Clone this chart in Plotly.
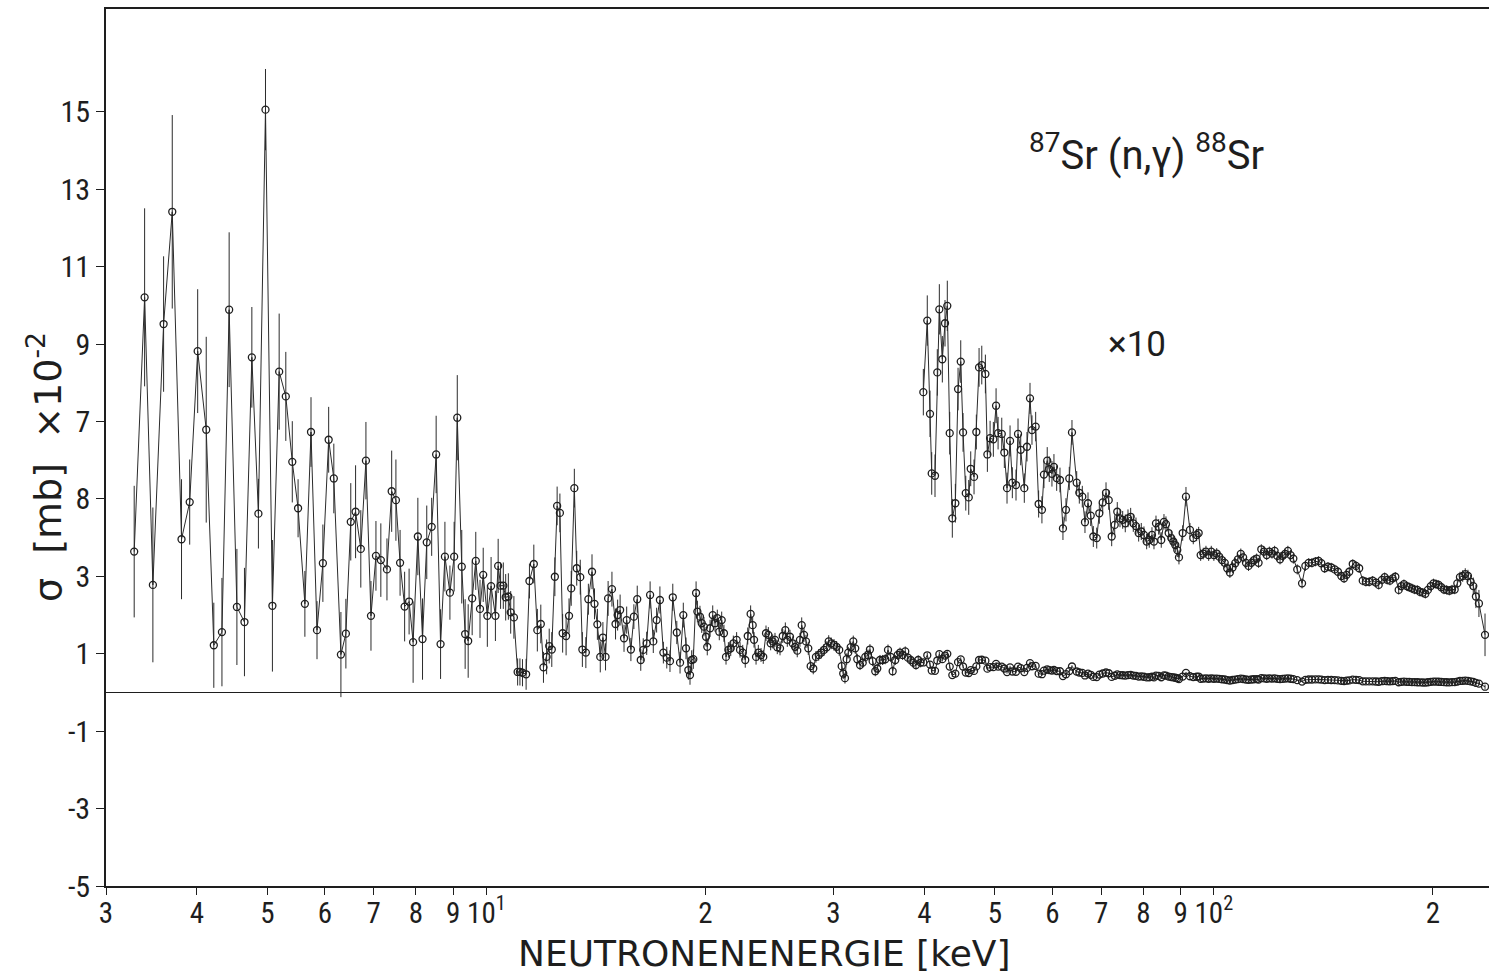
import plotly.graph_objects as go

# ---------------- data ----------------
# main series, energies below 40 keV  [keV]
energy_low = [
    3.28, 3.39, 3.48, 3.60, 3.70, 3.81, 3.91, 4.01, 4.12, 4.22, 4.33, 4.43, 4.54, 4.65, 4.76, 4.86,
    4.97, 5.08, 5.19, 5.30, 5.41, 5.51, 5.63, 5.74, 5.85, 5.96, 6.07, 6.17, 6.31, 6.41, 6.51, 6.61,
    6.72, 6.83, 6.94, 7.05, 7.16, 7.30, 7.41, 7.51, 7.61, 7.72, 7.83, 7.93, 8.05, 8.17, 8.28, 8.41,
    8.53, 8.65, 8.77, 8.91, 9.03, 9.12, 9.25, 9.35, 9.44, 9.56, 9.67, 9.80, 9.90, 10.03, 10.15, 10.29,
    10.38, 10.46, 10.55, 10.63, 10.72, 10.80, 10.91, 11.04, 11.12, 11.21, 11.34, 11.46, 11.62, 11.75,
    11.88, 11.98, 12.10, 12.20, 12.30, 12.42, 12.51, 12.62, 12.73, 12.87, 12.99, 13.08, 13.21, 13.31,
    13.46, 13.55, 13.70, 13.81, 13.97, 14.08, 14.21, 14.34, 14.46, 14.58, 14.70, 14.88, 15.05, 15.15,
    15.27, 15.46, 15.59,
    15.80, 15.95, 16.12, 16.30, 16.43, 16.61, 16.79, 16.96, 17.14, 17.32, 17.51, 17.70, 17.88, 18.04,
    18.27, 18.46, 18.65, 18.81, 18.95, 19.05, 19.15, 19.25, 19.42, 19.50, 19.66, 19.77, 19.91, 20.04,
    20.12, 20.30, 20.47, 20.62, 20.77, 20.90, 21.06, 21.21, 21.35, 21.51, 21.67, 21.85, 22.08, 22.32,
    22.51, 22.69, 22.87, 23.08, 23.23, 23.33, 23.48, 23.65, 23.85, 24.02, 24.23, 24.41, 24.59, 24.75,
    24.93, 25.11, 25.33, 25.55, 25.76, 25.92, 26.14, 26.37, 26.56, 26.75, 26.98, 27.13, 27.33, 27.50,
    27.70, 27.91, 28.14, 28.38, 28.63, 28.86, 29.11, 29.36, 29.55, 29.79, 30.05, 30.30, 30.55, 30.79,
    30.94, 31.11, 31.28, 31.44, 31.68, 31.94, 32.14, 32.35, 32.63, 32.91, 33.18, 33.46, 33.67, 33.96,
    34.24, 34.46, 34.76, 35.05, 35.34, 35.65, 35.95, 36.18, 36.48, 36.76, 37.03, 37.34, 37.65, 37.97,
    38.30, 38.62, 38.95, 39.23, 39.53,
]
# sigma [mb] x 10^-2
sigma_low = [
    3.64, 10.21, 2.78, 9.52, 12.42, 3.96, 4.92, 8.82, 6.79, 1.22, 1.56, 9.89, 2.21, 1.82, 8.66, 4.62,
    15.06, 2.24, 8.29, 7.65, 5.96, 4.76, 2.29, 6.73, 1.61, 3.34, 6.53, 5.53, 0.98, 1.52, 4.41, 4.67,
    3.71, 5.99, 1.98, 3.53, 3.42, 3.18, 5.20, 4.97, 3.35, 2.22, 2.35, 1.30, 4.03, 1.38, 3.88, 4.28,
    6.15, 1.25, 3.51, 2.58, 3.51, 7.10, 3.25, 1.51, 1.33, 2.43, 3.40, 2.16, 3.04, 1.98, 2.75, 1.98,
    3.27, 2.76, 2.76, 2.46, 2.48, 2.07, 1.94, 0.53, 0.53, 0.51, 0.47, 2.88, 3.32, 1.61,
    1.77, 0.65, 0.92, 1.20, 1.11, 2.99, 4.82, 4.64, 1.53, 1.46, 1.98, 2.69, 5.28, 3.21,
    2.98, 1.11, 1.03, 2.41, 3.12, 2.29, 1.76, 0.92, 1.42, 0.92, 2.43, 2.67, 1.77, 2.00,
    2.13, 1.40, 1.87,
    1.11, 1.96, 2.41, 0.84, 1.10, 1.27, 2.52, 1.32, 1.87, 2.39, 1.03, 0.90, 0.81, 2.46,
    1.55, 0.77, 2.00, 1.14, 0.58, 0.45, 0.84, 0.86, 2.57, 2.09, 1.96, 1.79, 1.70, 1.44,
    1.18, 1.66, 2.00, 1.79, 1.92, 1.57, 1.87, 1.53, 0.92, 1.10, 1.14, 1.27, 1.36, 1.10,
    1.03, 0.84, 1.46, 2.03, 1.74, 1.36, 0.92, 1.03, 0.97, 0.92, 1.53, 1.49, 1.27, 1.32,
    1.36, 1.17, 1.14, 1.46, 1.61, 1.36, 1.44, 1.27, 1.18, 1.08, 1.36, 1.74, 1.49, 1.32,
    1.14, 0.68, 0.62, 0.92, 0.97, 1.03, 1.10, 1.17, 1.32, 1.27, 1.23, 1.18, 1.10, 0.68,
    0.49, 0.37, 0.86, 1.03, 1.17, 1.32, 1.14, 0.86, 0.71, 0.77, 0.92, 0.97, 1.11, 0.81,
    0.55, 0.62, 0.84, 0.84, 0.86, 1.10, 0.92, 0.55, 0.84, 0.97, 1.03, 0.97, 1.06, 0.90,
    0.84, 0.77, 0.71, 0.84, 0.77,
]
err_low = [
    1.70, 2.30, 2.00, 1.75, 2.50, 1.55, 1.10, 1.60, 2.40, 1.10, 1.40, 2.00, 1.50, 1.40, 1.30, 0.90,
    1.05, 1.70, 1.50, 1.15, 1.05, 0.75, 0.85, 0.90, 0.75, 1.00, 0.85, 0.90, 1.10, 0.90, 1.00, 1.20,
    1.00, 1.00, 0.90, 0.90, 0.95, 0.80, 1.05, 1.05, 0.85, 0.90, 0.85, 1.05, 1.00, 1.05, 0.95, 0.75,
    1.00, 0.90, 0.90, 0.70, 0.90, 1.10, 0.95, 0.90, 0.95, 0.95, 0.75, 0.75, 0.70, 0.80, 0.75, 0.65,
    0.70, 0.60, 0.60, 0.60, 0.60, 0.55, 0.55, 0.35, 0.35, 0.35, 0.40, 0.45, 0.50, 0.55,
    0.50, 0.40, 0.45, 0.45, 0.45, 0.50, 0.50, 0.50, 0.50, 0.50, 0.45, 0.45, 0.50, 0.45,
    0.45, 0.45, 0.40, 0.40, 0.45, 0.40, 0.40, 0.40, 0.40, 0.35, 0.45, 0.45, 0.40, 0.40,
    0.40, 0.35, 0.35,
    0.30, 0.32, 0.35, 0.28, 0.30, 0.30, 0.35, 0.30, 0.32, 0.35, 0.28, 0.28, 0.28, 0.35,
    0.30, 0.28, 0.32, 0.28, 0.25, 0.25, 0.25, 0.25, 0.30, 0.28, 0.28, 0.25, 0.25, 0.25,
    0.22, 0.22, 0.25, 0.22, 0.22, 0.22, 0.22, 0.22, 0.20, 0.20, 0.20, 0.20, 0.20, 0.20,
    0.20, 0.20, 0.22, 0.22, 0.22, 0.20, 0.20, 0.20, 0.18, 0.18, 0.20, 0.20, 0.18, 0.18,
    0.18, 0.18, 0.18, 0.18, 0.20, 0.18, 0.18, 0.18, 0.17, 0.17, 0.18, 0.20, 0.18, 0.17,
    0.17, 0.15, 0.15, 0.15, 0.15, 0.15, 0.15, 0.15, 0.16, 0.15, 0.15, 0.15, 0.15, 0.14,
    0.14, 0.14, 0.15, 0.15, 0.15, 0.15, 0.14, 0.14, 0.13, 0.13, 0.14, 0.14, 0.14, 0.13,
    0.13, 0.13, 0.13, 0.13, 0.13, 0.14, 0.13, 0.12, 0.13, 0.13, 0.13, 0.13, 0.13, 0.12,
    0.12, 0.12, 0.12, 0.12, 0.12,
]

# energies >= 40 keV (shown in the main curve and, magnified, in the "x10" curve)
energy_high = [
    39.87, 40.37, 40.72, 40.94, 41.37, 41.67, 41.94, 42.34, 42.70, 43.01, 43.34, 43.70, 44.12, 44.50,
    44.88, 45.21, 45.60, 46.03, 46.32, 46.81, 47.15, 47.56, 47.97, 48.52, 48.83, 49.25, 49.76, 50.19,
    50.51, 51.10, 51.52, 51.96, 52.46, 52.84, 53.46, 53.80, 54.26, 54.88, 55.35, 55.88, 56.23, 56.89,
    57.43, 58.03, 58.40, 59.01, 59.39, 59.90, 60.28, 60.80, 61.44, 62.02, 62.62, 63.28, 63.82, 64.78,
    65.32, 65.94, 66.50, 67.14, 67.72, 68.28, 69.02, 69.59, 70.34, 71.08, 71.69, 72.37, 73.06, 73.66,
    74.29, 74.93, 75.55, 76.20, 76.85, 77.49, 78.15, 78.82, 79.47, 80.15, 80.84, 81.51, 82.21, 82.73,
    83.26, 83.97, 84.66, 85.39, 85.93, 86.67, 87.39, 87.95, 88.51, 89.07, 89.54, 90.60, 91.55, 92.71,
    93.69, 94.70, 95.30, 95.91, 96.70, 97.53, 98.37, 99.18, 100.0, 100.9, 101.7, 102.6, 103.5, 104.3,
    105.2, 106.1, 107.0, 107.9, 108.9, 109.7, 110.7, 111.6, 112.6, 113.5, 114.5, 115.2, 116.2, 117.2,
    118.2, 119.2, 120.2, 121.2, 122.2, 123.3, 124.3, 125.3, 126.4, 127.5, 128.6, 130.2, 132.2, 133.6,
    135.0, 136.4, 137.9, 139.3, 140.5, 142.0, 143.5, 145.0, 146.6, 148.1, 149.7, 151.0, 152.2, 153.5,
    155.2, 156.8, 158.4, 160.2, 161.8, 163.5, 165.3, 167.0, 168.5, 170.2, 171.7, 173.1, 174.6, 176.1,
    177.6, 179.5, 181.0, 182.5, 184.1, 185.6, 187.2, 188.8, 190.4, 192.0, 193.7, 195.3, 196.9, 198.7,
    200.4, 202.0, 203.7, 205.4, 207.2, 208.9, 210.7, 212.5, 214.3, 216.1, 217.9, 219.8, 221.6, 223.5,
    225.4, 227.3, 229.2, 231.4, 235.9,
]
# sigma x 10 (the magnified "x10" curve)
sigma_high_x10 = [
    7.76, 9.61, 7.20, 5.66, 5.60, 8.27, 9.90, 8.61, 9.54, 9.99, 6.70, 4.50, 4.89, 7.84,
    8.55, 6.72, 5.15, 5.04, 5.78, 5.57, 6.73, 8.40, 8.46, 8.23, 6.15, 6.57, 6.54, 7.41,
    6.70, 6.68, 6.20, 5.28, 6.50, 5.42, 5.36, 6.68, 6.27, 5.28, 6.35, 7.60, 6.78, 6.87,
    4.87, 4.72, 5.63, 5.99, 5.77, 5.65, 5.83, 5.54, 5.49, 4.24, 4.72, 5.53, 6.72, 5.42,
    5.16, 5.06, 4.40, 4.89, 4.57, 4.03, 3.99, 4.63, 4.91, 5.16, 4.97, 4.03, 4.33, 4.67,
    4.50, 4.46, 4.37, 4.50, 4.54, 4.37, 4.30, 4.12, 4.16, 4.07, 3.90, 3.94, 4.07, 3.90,
    4.37, 4.28, 3.94, 4.41, 4.35, 4.12, 3.99, 3.90, 3.81, 3.68, 3.49, 4.12, 5.06, 4.20,
    3.99, 4.07, 4.12, 3.55, 3.59, 3.64, 3.55, 3.64, 3.55, 3.59, 3.51, 3.42, 3.35, 3.21,
    3.10, 3.23, 3.34, 3.44, 3.58, 3.49, 3.35, 3.27, 3.35, 3.42, 3.46, 3.35, 3.70, 3.64,
    3.55, 3.64, 3.59, 3.66, 3.53, 3.44, 3.53, 3.58, 3.66, 3.55, 3.46, 3.18, 2.82, 3.27,
    3.35, 3.35, 3.38, 3.40, 3.34, 3.21, 3.25, 3.23, 3.18, 3.12, 3.01, 2.95, 3.04, 3.12,
    3.32, 3.27, 3.21, 2.89, 2.86, 2.86, 2.89, 2.84, 2.78, 2.91, 2.98, 2.91, 2.89, 2.95,
    2.99, 2.65, 2.75, 2.80, 2.75, 2.72, 2.69, 2.66, 2.65, 2.60, 2.58, 2.55, 2.65, 2.75,
    2.82, 2.80, 2.78, 2.72, 2.66, 2.65, 2.63, 2.66, 2.66, 2.82, 2.98, 3.01, 3.06, 3.01,
    2.86, 2.75, 2.48, 2.30, 1.49,
]
err_high_x10 = [
    0.60, 0.65, 0.60, 0.55, 0.55, 0.60, 0.65, 0.60, 0.60, 0.65, 0.55, 0.50, 0.50, 0.55,
    0.55, 0.50, 0.45, 0.45, 0.45, 0.45, 0.45, 0.50, 0.50, 0.50, 0.45, 0.45, 0.45, 0.45,
    0.42, 0.42, 0.40, 0.40, 0.40, 0.40, 0.40, 0.40, 0.40, 0.38, 0.38, 0.40, 0.38, 0.38,
    0.35, 0.35, 0.35, 0.35, 0.33, 0.33, 0.33, 0.33, 0.32, 0.30, 0.30, 0.30, 0.32, 0.30,
    0.28, 0.28, 0.28, 0.28, 0.27, 0.27, 0.27, 0.27, 0.27, 0.27, 0.25, 0.25, 0.25, 0.25,
    0.23, 0.23, 0.23, 0.23, 0.23, 0.22, 0.22, 0.22, 0.22, 0.22, 0.20, 0.20, 0.20, 0.20,
    0.20, 0.20, 0.20, 0.20, 0.20, 0.20, 0.18, 0.18, 0.18, 0.18, 0.18, 0.20, 0.25, 0.18,
    0.16, 0.16, 0.16, 0.15, 0.15, 0.15, 0.15, 0.15, 0.15, 0.14, 0.14, 0.14, 0.14, 0.14,
    0.14, 0.14, 0.14, 0.14, 0.14, 0.13, 0.13, 0.13, 0.13, 0.13, 0.13, 0.13, 0.13, 0.13,
    0.13, 0.13, 0.13, 0.13, 0.13, 0.13, 0.13, 0.13, 0.13, 0.13, 0.13, 0.13, 0.13, 0.13,
    0.12, 0.12, 0.12, 0.12, 0.12, 0.12, 0.12, 0.12, 0.12, 0.12, 0.12, 0.12, 0.12, 0.12,
    0.12, 0.12, 0.12, 0.12, 0.12, 0.12, 0.12, 0.12, 0.12, 0.12, 0.12, 0.12, 0.12, 0.12,
    0.12, 0.12, 0.12, 0.12, 0.12, 0.12, 0.12, 0.12, 0.12, 0.12, 0.12, 0.12, 0.12, 0.12,
    0.12, 0.12, 0.12, 0.12, 0.12, 0.12, 0.12, 0.12, 0.12, 0.13, 0.14, 0.15, 0.15, 0.16,
    0.18, 0.22, 0.30, 0.35, 0.55,
]
x10_factor = 10

x_tick_vals = [3, 4, 5, 6, 7, 8, 9, 10, 20, 30, 40, 50, 60, 70, 80, 90, 100, 200]
x_tick_text = ["3", "4", "5", "6", "7", "8", "9", "10<sup>1</sup>", "2", "3", "4", "5", "6",
               "7", "8", "9", "10<sup>2</sup>", "2"]
y_tick_vals = [-5, -3, -1, 1, 3, 5, 7, 9, 11, 13, 15]
y_tick_text = ["-5", "-3", "-1", "1", "3", "8", "7", "9", "11", "13", "15"]

# ---------------- figure ----------------
INK = "#1e1e1e"
TICK_FONT = "Liberation Sans Narrow, Roboto Condensed, Roboto, sans-serif"
TEXT_FONT = "DejaVu Sans, Roboto, sans-serif"
LABEL_FONT = "Roboto, DejaVu Sans, sans-serif"

main_x = energy_low + energy_high
main_y = sigma_low + [v / x10_factor for v in sigma_high_x10]
main_e = err_low + [e / x10_factor for e in err_high_x10]

marker_style = dict(symbol="circle-open", size=7, color=INK, line=dict(width=1.3, color=INK))
err_style = dict(thickness=1.0, width=0, color="#2b2b2b")

fig = go.Figure()
fig.add_trace(go.Scatter(
    x=main_x, y=main_y, mode="lines+markers",
    line=dict(color="#2b2b2b", width=1.0),
    marker=marker_style,
    error_y=dict(type="data", array=main_e, visible=True, **err_style),
    showlegend=False,
))
fig.add_trace(go.Scatter(
    x=energy_high, y=sigma_high_x10, mode="lines+markers",
    line=dict(color="#2b2b2b", width=1.0),
    marker=marker_style,
    error_y=dict(type="data", array=err_high_x10, visible=True, **err_style),
    showlegend=False,
))

fig.update_layout(
    width=1489, height=973,
    margin=dict(l=106, r=0, t=9, b=87),
    paper_bgcolor="white", plot_bgcolor="white",
    font=dict(family=LABEL_FONT, color=INK),
    showlegend=False,
)
fig.update_xaxes(
    type="log", range=[0.47712, 2.3782],
    tickvals=x_tick_vals, ticktext=x_tick_text,
    ticks="outside", ticklen=7, tickwidth=1.2, tickcolor=INK,
    tickfont=dict(size=29, family=TICK_FONT, color=INK),
    ticklabelstandoff=-7,
    showline=True, linecolor=INK, linewidth=1.6, mirror=True,
    showgrid=False, zeroline=False,
)
fig.update_yaxes(
    range=[-5, 17.66],
    tickvals=y_tick_vals, ticktext=y_tick_text,
    ticks="outside", ticklen=8, tickwidth=1.2, tickcolor=INK,
    tickfont=dict(size=30, family=TICK_FONT, color=INK),
    showline=True, linecolor=INK, linewidth=1.6,
    showgrid=False, zeroline=True, zerolinecolor=INK, zerolinewidth=1.2,
)

fig.add_annotation(
    xref="paper", yref="paper", x=-0.0441, y=0.4778,
    text="σ\u00a0\u00a0[mb]\u00a0\u00a0×10<sup>-2</sup>", textangle=-90, showarrow=False,
    xanchor="center", yanchor="middle", font=dict(size=38, family=TEXT_FONT, color=INK),
)
fig.add_annotation(
    xref="paper", yref="paper", x=0.4765, y=-0.0775,
    text="NEUTRONENENERGIE [keV]", showarrow=False,
    xanchor="center", yanchor="middle", font=dict(size=36, family=TEXT_FONT, color=INK),
)
fig.add_annotation(
    xref="paper", yref="paper", x=0.7527, y=0.8369,
    text="<sup>87</sup>Sr (n,γ) <sup>88</sup>Sr", showarrow=False,
    xanchor="center", yanchor="middle", font=dict(size=40, family=LABEL_FONT, color=INK),
)
fig.add_annotation(
    xref="paper", yref="paper", x=0.7455, y=0.618,
    text="×10", showarrow=False,
    xanchor="center", yanchor="middle", font=dict(size=35, family=LABEL_FONT, color=INK),
)

fig.write_html("out.html")
